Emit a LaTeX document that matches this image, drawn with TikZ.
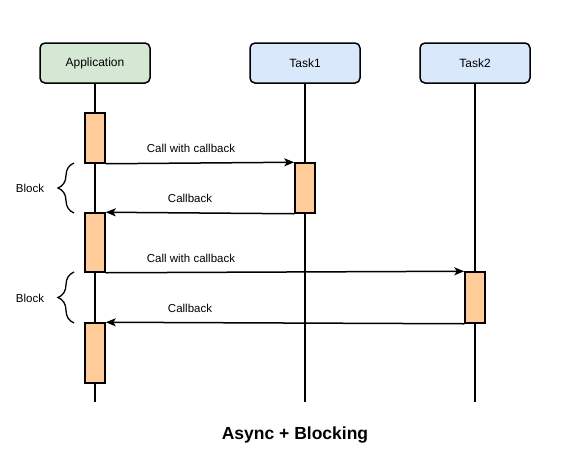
\documentclass[tikz,border=0pt]{standalone}
\usepackage{fontspec}
\setmainfont{Liberation Sans}
\usepackage{tikz}
\usetikzlibrary{arrows.meta,decorations.pathreplacing}
\definecolor{appgreen}{HTML}{D5E8D4}
\definecolor{taskblue}{HTML}{DAE8FC}
\definecolor{actorange}{HTML}{FFCC99}

\begin{document}
\begin{tikzpicture}[x=1pt, y=-1pt, font=\fontsize{11.5}{13}\selectfont, >={Stealth[length=10pt,width=8pt,inset=2.5pt]},
head/.style={draw, line width=1.5pt, rounded corners=5pt, minimum width=110pt, minimum height=40pt, inner sep=0pt, font=\fontsize{12}{14}\selectfont},
act/.style={draw, line width=1.5pt, fill=actorange, minimum width=20pt, inner sep=0pt},
life/.style={line width=1.5pt}, msg/.style={->, line width=1.5pt}, blockbrace/.style={line width=1.3pt, decorate, decoration={brace, amplitude=16pt}}]
\useasboundingbox (0,0) rectangle (561,458);
% lifeline heads
\node[head, fill=appgreen] (app) at (95,63) {Application};
\node[head, fill=taskblue] (task1) at (305,63) {Task1};
\node[head, fill=taskblue] (task2) at (475,63) {Task2};
\coordinate (append) at (95,402); \coordinate (task1end) at (305,402); \coordinate (task2end) at (475,402);
\draw[life] (app.south) -- (append); \draw[life] (task1.south) -- (task1end); \draw[life] (task2.south) -- (task2end);
% activations
\node[act, minimum height=50pt] (appact1) at (95,138) {};
\node[act, minimum height=59pt] (appact2) at (95,242.5) {};
\node[act, minimum height=60pt] (appact3) at (95,353) {};
\node[act, minimum height=50pt] (task1act) at (305,188) {};
\node[act, minimum height=51pt] (task2act) at (475,297.5) {};
% messages
\draw[msg] (appact1.south east) -- (task1act.north west);
\draw[msg] (task1act.south west) -- (appact2.north east);
\draw[msg] (appact2.south east) -- (task2act.north west);
\draw[msg] (task2act.south west) -- (appact3.north east);
\node (call1) at (191,148) {Call with callback};
\node (back1) at (190,198) {Callback};
\node (call2) at (191,258) {Call with callback};
\node (back2) at (190,308) {Callback};
% blocks
\coordinate (brace1top) at (74,163); \coordinate (brace1bot) at (74,213);
\coordinate (brace2top) at (74,272); \coordinate (brace2bot) at (74,323);
\draw[blockbrace] (brace1bot) -- (brace1top);
\draw[blockbrace] (brace2bot) -- (brace2top);
\node (block1) at (30,188) {Block};
\node (block2) at (30,298) {Block};
\node[font=\fontsize{17.5}{20}\selectfont\bfseries] (title) at (295,435) {Async + Blocking};
\end{tikzpicture}
\end{document}
